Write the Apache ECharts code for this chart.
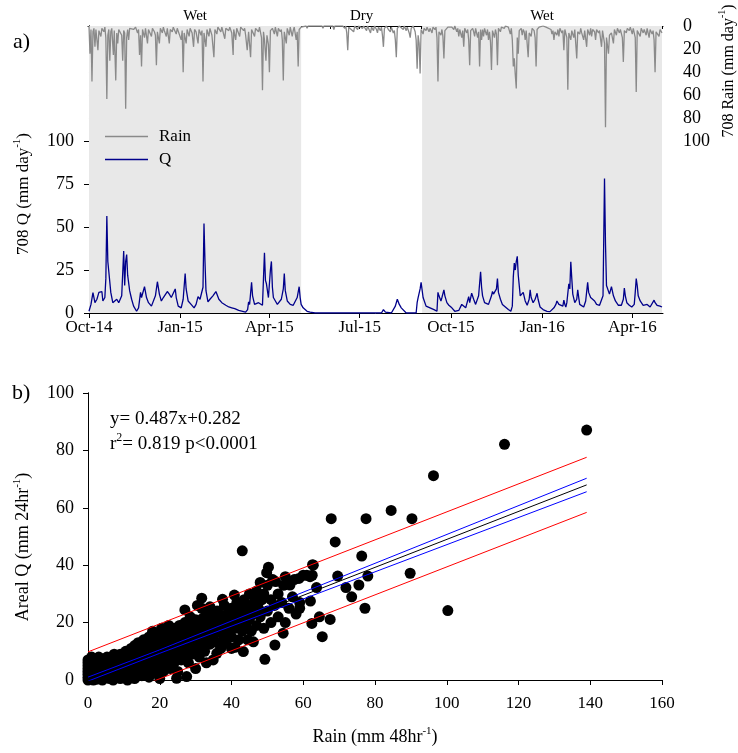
<!DOCTYPE html>
<html><head><meta charset="utf-8">
<script src="https://cdn.jsdelivr.net/npm/echarts@6/dist/echarts.min.js"></script>
<style>html,body{margin:0;padding:0;background:#fff}#c{width:738px;height:753px}</style>
</head><body><div id="c"></div>
<script>
const FONT = 'Liberation Serif, Times New Roman, serif';
// ---- Panel a data (day 0 = 1 Oct 2014) ----
const monthLabels = ['Oct-14','Jan-15','Apr-15','Jul-15','Oct-15','Jan-16','Apr-16'];
const monthLabelDays = [0,92,182,273,365,457,548];
const monthStartDays = [0,31,61,92,123,151,182,212,243,273,304,335,365,396,426,457,488,517,548,578];
const seasonNames = ['Wet','Dry','Wet'];
const seasonStart = [0,214,336];
const seasonEnd = [214,336,578];
const qTicks = [0,25,50,75,100];
const rainTicks = [0,20,40,60,80,100];
const qSeries = [[0,1],[2,5],[4,11.8],[6,6],[8,8],[10,12],[12,11],[13,12.5],[14,7],[16,9],[17,20],[18,56.4],[19,30],[20,24],[21,25],[22,12],[24,6],[26,7],[28,8],[30,6],[32,7],[33,10],[35,36],[36,16],[37,30],[38,34],[39,22],[41,13],[43,8],[45,4],[48,1],[50,3],[52,12],[53,9],[54,8],[56,15.3],[58,9],[60,6],[63,4],[65,5],[67,10],[69,18.2],[71,11],[73,7],[75,9],[77,10],[79,12.5],[81,11],[83,9],[85,10],[87,14],[88,9],[90,4],[93,3],[95,8],[97,23],[98,14],[100,7],[103,5],[106,3],[108,5],[110,9.5],[112,8],[114,7],[115,15],[116,52],[117,30],[118,13],[120,6.5],[122,8],[125,10],[127,11],[128,12.5],[129,11],[131,8],[134,6],[138,4.5],[141,3.5],[144,3],[147,2.5],[151,1.5],[155,1],[158,0.5],[160,2],[161,6.5],[162,5],[164,17.8],[165,10],[167,5],[169,5],[171,6],[173,5],[175,4.5],[176,20],[177,35],[178,19],[179,17],[181,9],[183,25],[184,30],[185,15],[186,9],[188,7],[190,5],[192,6],[194,8],[196,14],[197,23],[198,13],[200,7],[203,5],[206,4.5],[208,5],[210,9],[212,15.3],[213,9],[214,5],[216,3],[218,2],[220,1],[223,0.5],[228,0],[295,0],[296,1],[297,2],[299,0.5],[300,0],[305,0],[307,0.5],[309,4],[311,8],[313,5],[315,3],[317,2],[320,0],[330,0],[331,6],[332,9],[334,14],[335,17.8],[337,9],[340,4],[344,3],[348,2],[351,1],[352,12],[353,10],[355,7],[356,9],[358,13.5],[359,10],[361,6],[363,4.5],[366,3],[369,1],[371,0],[373,1.5],[376,5],[378,4],[380,3],[382,4],[383,9.5],[384,6],[385,7],[386,11.5],[388,8],[390,5],[391,4.5],[393,10],[395,24],[396,15],[397,10],[399,6],[401,7],[403,5],[404,4],[405,6],[406,10],[407,12.5],[408,11],[410,10],[411,14],[412,20],[413,12],[415,8],[417,5],[420,3.5],[423,2],[425.5,1],[427,4],[428,21],[429,29],[430,25],[431,30],[432,33],[433,22],[435,10],[436,11],[438,12],[440,7],[442,4.5],[444,8],[445,13.5],[446,9],[448,6],[450,8],[452,11.5],[453,8],[455,3.5],[458,2],[462,1],[465,0.8],[467,1],[469,3],[471,5],[472,7],[474,5],[476,4.5],[478,4],[479,7.5],[480,5],[481,3.5],[482,6],[484,17],[485,14],[486,29.8],[487,20],[488,11],[490,6],[492,8],[493,13.5],[494,9],[495,5],[497,4],[499,3.5],[501,7],[503,17.8],[504,12],[506,9],[507,8],[508,10],[510,7],[512,5],[515,4.5],[517,4.5],[518.5,10],[520,78.3],[521,40],[522,16],[523,15.5],[525,11],[526,12],[527,15.3],[529,10],[531,7],[534,4.5],[537,4.5],[539,8],[540,14.5],[541,10],[542.5,6],[545,4.5],[547.5,3.5],[550,5],[551,12],[552,20],[553,16],[554,10],[556,7],[559,4.5],[561,4],[563,5],[565,4],[566,3.5],[568,4],[570,7.5],[571,6],[573,4.5],[576,4],[578,3.5]];
const rainSeries = [[0,0],[1,24],[2,3],[3,48],[4,5],[5,2],[6,18],[7,3],[9,21],[10,4],[12,9],[13,2],[15,5],[16,1],[17,10],[18,63],[19,8],[20,3],[21,30],[22,5],[23,2],[24.6,25],[25.5,4],[27,47],[28,6],[29,15],[30,3],[32,2],[33,8],[34,30],[35,4],[36,6],[37,71.6],[38,10],[39,3],[40,12],[41,2],[43,1],[45,3],[47,1],[49,6],[50,3],[51,25],[52,8],[53,35],[54,3],[56,10],[57,2],[59,15],[60,3],[61,4],[63,9],[64,2],[66,5],[67,8],[68,34],[69,5],[71,15],[72,2],[74,6],[75,1],[76,4],[78,9],[79,2],[81,15],[82,3],[84,5],[85,1],[88,7],[89,2],[91,3],[93,12],[94,4],[95,40],[96,6],[98,15],[99,3],[101,9],[102,2],[104,6],[105.5,18],[106.5,3],[108,5],[110,15],[111,3],[113,8],[114,4],[115,48],[116,6],[118,18],[119,3],[121,9],[122,2],[124,8],[126,27],[127,3],[129,7],[130,1],[133,5],[134,1],[137,11],[138,2],[141,4],[142,1],[144,6],[145.4,25],[146,3],[148,12],[149,2],[151,3],[152,9],[153,1],[156,4],[157,2],[158,8],[159.6,21],[161,5],[163,27],[164,3],[166,7],[167,9],[168,2],[171,5],[172,1],[174,10],[175,55.6],[176,5],[177,12],[178.5,30],[179.5,8],[181,16],[182,40],[183,4],[185,2],[187,7],[188,1],[190,9],[191,2],[193,5],[194,3],[195,12],[196,47],[197,5],[199,15],[200,2],[202,8],[203,1],[205,9],[206,4],[207,1],[209,12],[210,5],[211,35],[212,3],[214,1],[216,0],[219,0],[220,2],[221,0],[235,0],[236,2],[237,0],[246,0],[247,3],[248,0],[250,1],[251,0],[256,0],[258,2],[259,0],[260,6],[261,21],[262,1],[264,0],[267,5],[268,0],[271,3],[272,0],[276,2],[277,0],[280,4],[281,0],[284,6],[285,1],[287,4],[288,0],[290,3],[291,6],[292,1],[294,4],[295,1],[296,8],[297,18],[298,2],[300,0],[302,3],[304,5],[305,1],[307,6],[308,4],[309,12],[310,27],[311,2],[313,0],[315,1],[317,3],[318,0],[320,4],[321,1],[323,6],[324,10],[325,2],[327,0],[329,5],[330,12],[331,37],[332,8],[333,15],[334,41],[335,3],[337,7],[338,2],[340,4],[341,1],[343,5],[344,2],[346,6],[347,1],[349,3],[350,1],[351,10],[352,48],[353,5],[355,8],[356,3],[357,9],[358,28],[359,4],[361,3],[362,1],[364,2],[366,1],[368,3],[369,0],[371,5],[372,2],[373,9],[374,3],[376,10],[377,4],[378,18],[379,2],[381,6],[382,3],[383,12],[384,34],[385,4],[387,2],[388,5],[389,9],[390,2],[392,10],[393,5],[394,35],[395,3],[396,12],[397,3],[398,9],[399,2],[401,8],[402,3],[403,12],[404,5],[405,14],[406,38],[407,4],[409,10],[410,3],[411,7],[412,34],[413,2],[415,5],[416,1],[419,2],[420,0],[423,1],[424,0],[425,7],[426,2],[427,12],[428,35],[429,28],[430,42],[431,54],[432,10],[433,24],[434,4],[436,2],[437,8],[438,3],[439,5],[440,12],[441,4],[443,27],[444,6],[446,9],[447,2],[449,4],[450,10],[451,35],[452,3],[454,1],[456,2],[458,0],[461,1],[462,2],[463,0],[466,3],[467,7],[468,4],[469,12],[470,5],[472,8],[473,3],[474,9],[475,2],[477,6],[478,4],[479,21],[480,3],[482,10],[483,55],[484,6],[486,12],[487,4],[489,10],[490,3],[492,28],[493,5],[495,7],[496,2],[497,6],[499,12],[500,4],[502,18],[503,3],[505,8],[506,2],[507,9],[508,3],[510,5],[511,12],[512,3],[514,6],[515,4],[517,18],[518,4],[520,15],[521,87.5],[522,10],[524,24],[525,8],[527,6],[529,15],[530,3],[532,8],[533,2],[535,6],[536,3],[538,10],[539,31],[540,4],[542,6],[543,2],[545,4],[546,1],[548,7],[549,2],[551,10],[552,57],[553,4],[555,3],[556,9],[557,2],[559,6],[560,3],[562,8],[563,2],[565,10],[566,3],[568,7],[569,4],[570,12],[571,40],[572,5],[574,4],[575,9],[576,3],[578,6]];
// ---- Panel b data ----
const scatterPts = [[0,0],[0,1],[0,2],[0,3],[0,4],[0,5],[0,6],[0,7],[0.3,2.5],[0.5,0.5],[0.5,4.5],[0.8,6.5],[1,1],[1,3],[1,5],[1,8],[1.2,2],[1.5,0],[1.5,4],[1.5,6],[2,1.5],[2,3],[2,7],[2.3,5],[2.5,0.3],[2.8,2.5],[3,4],[3,6],[3,8],[3.2,1],[3.5,3],[4,0],[4,2],[4,5],[4.2,7],[4.5,3.5],[5,1],[5,4.5],[5,6],[5.3,8],[5.5,2.5],[6,0.5],[6,3.5],[6,5.5],[6.2,7.5],[6.5,2],[7,0],[7,4],[7,6.5],[7.3,9],[7.5,2.5],[8,1],[8,5],[8,7.5],[8.5,3.5],[9,0.5],[9,2],[9,6],[9,9],[9.5,4],[10,1.5],[10,5.5],[10,8],[10.5,10],[11,0],[11,3],[11,6.5],[11,9],[11.5,4.5],[12,1],[12,7],[12,11],[12.5,5],[12.5,2.5],[13,8.5],[13,12],[13,0.5],[13.5,6],[14,3.5],[14,10],[14,13],[14.5,7.5],[15,1.5],[15,5],[15,9],[15,12],[15.5,14],[16,3],[16,7],[16,10.5],[16.5,13],[16.5,5.5],[17,1],[17,8.5],[17,15],[17.5,11],[17.5,4],[18,6.5],[18,12.5],[18,17],[18.5,9],[18.5,2.5],[19,14],[19,7],[19,10.5],[19.5,4.5],[19.5,16],[20,0.5],[20,6],[20,9],[20,12],[20,15.5],[20.5,18],[21,3],[21,8],[21,11],[21,13.5],[21.5,17],[21.5,5.5],[22,10],[22,14.5],[22,7],[22.5,12],[22.5,19],[23,4],[23,9],[23,16],[23.5,13],[23.5,11],[24,6],[24,15],[24,18],[24.5,8.5],[24.7,0.6],[25,12],[25,16.5],[25,3],[25.5,10],[25.5,19],[26,7],[26,14],[26,17.5],[26.5,12],[27,24.4],[27,9],[27,15.5],[27,20],[27.5,1.2],[27.5,11],[28,6],[28,13],[28,18],[28.5,16],[28.5,22],[29,9],[29,12],[29,19.5],[29.5,14.5],[30,4],[30,17],[30,21],[30,11],[30.5,26],[31,8],[31,14],[31,18.5],[31.7,28.5],[31.7,25],[32,12],[32,16],[32,21.5],[32.5,10],[32.5,19],[33,14],[33,23],[33,6],[33.5,17],[34,12.5],[34,20],[34,25.5],[34.5,15],[34.9,7],[35,18],[35,22],[35.9,9.3],[36,13],[36,16.5],[36,24],[36.5,20],[37,11],[37,18],[37.5,28.1],[37.5,22.5],[38,15],[38,20],[38,26],[38.5,13],[39,17],[39,23],[39.5,19],[40,11],[40,15],[40,21],[40,25],[40.8,29.6],[41,11.4],[41,18],[41,23],[41.5,27],[42,14],[42,20],[42.5,25],[43,45],[43,17],[43,22],[43.3,9.9],[43.5,28],[44,19],[44,24],[44.5,14],[45,21],[45,26],[45,30],[45.5,17],[46,23],[46.1,13.3],[46.5,28],[47,19],[47,31],[47.5,25],[48,22],[48,34],[48.5,28],[49,18],[49,30],[49.3,7.2],[49.8,37.4],[50,24],[50,33],[50.3,39.3],[51,20],[51,28],[51.5,35],[52,26],[52.1,12.2],[52.3,34.3],[53,22],[53,30],[54,27],[54.4,16.3],[54.5,33],[55,20],[55,36],[56,25],[56.3,33.1],[57,29],[57.5,35],[58,23],[58.8,35.4],[59,25],[59,27],[60,36.5],[61,36.5],[61.9,36],[62.4,19.7],[62,27.5],[62.5,36.5],[62.6,40.2],[62.8,40],[63.7,32.2],[64.5,22],[65.3,15.1],[67.5,21.1],[67.8,56.2],[68.9,48.1],[69.6,36.2],[71.9,32.2],[73.5,29],[75.5,33.1],[76.3,43.2],[77.2,25],[77.5,56.2],[78,36.2],[84.5,59.1],[89.8,37.2],[90.3,56.2],[96.3,71.2],[100.3,24.2],[116.1,82.1],[139,87.1]];
const fitLine = [[0,0.282],[139,67.98]];
const confUpper = [[0,1.0],[20,10.5],[139,70.3]];
const confLower = [[0,-0.4],[20,9.3],[139,65.6]];
const predUpper = [[0,9.8],[139,77.6]];
const predLower = [[0,-9.3],[139,58.4]];
const eqText = 'y= 0.487x+0.282';
const r2Text = ['r','2','= 0.819 p<0.0001'];

const chart = echarts.init(document.getElementById('c'));
const lab = {fontFamily: FONT, fontSize: 17, color: '#000'};
const axLine = {show: true, lineStyle: {color: '#000', width: 1}};
function mkRich(fs) {
  return {
    a: {fontFamily: FONT, fontSize: fs, color: '#000', verticalAlign: 'bottom', lineHeight: fs + 3},
    s: {fontFamily: FONT, fontSize: Math.round(fs * 0.62), color: '#000', verticalAlign: 'top', lineHeight: fs + 3}
  };
}
function supText(x, y, a, s, b, fs, rot, align) {
  const o = {type: 'text', x: x, y: y,
    style: {text: '{a|' + a + '}{s|' + s + '}{a|' + b + '}', rich: mkRich(fs), align: align || 'center', verticalAlign: 'middle'}};
  if (rot) o.rotation = Math.PI / 2;
  return o;
}
const option = {
  animation: false,
  backgroundColor: '#fff',
  grid: [
    {left: 88, top: 26, width: 575, height: 287},
    {left: 88, top: 393, width: 574, height: 287}
  ],
  legend: {
    data: ['Rain', 'Q'], orient: 'vertical', left: 100, top: 123, itemWidth: 43, itemHeight: 1.5,
    icon: 'rect', itemGap: 6, textStyle: {fontFamily: FONT, fontSize: 17, color: '#000', padding: [0, 0, 0, 6]}
  },
  xAxis: [
    {gridIndex: 0, type: 'value', min: -1, max: 579, position: 'bottom', axisLine: axLine, splitLine: {show: false},
      axisTick: {show: true, length: 5, customValues: monthLabelDays, lineStyle: {color: '#000'}},
      axisLabel: Object.assign({customValues: monthLabelDays, margin: 6,
        formatter: v => monthLabels[monthLabelDays.indexOf(v)] || ''}, lab)},
    {gridIndex: 0, type: 'value', min: -1, max: 579, position: 'bottom', axisLine: {show: false}, splitLine: {show: false},
      axisTick: {show: true, length: 3, customValues: monthStartDays, lineStyle: {color: '#000'}},
      axisLabel: {show: false}},
    {gridIndex: 0, type: 'value', min: -1, max: 579, position: 'top', axisLine: axLine, splitLine: {show: false},
      axisTick: {show: false}, axisLabel: {show: false}},
    {gridIndex: 1, type: 'value', min: 0, max: 160, interval: 20, position: 'bottom', axisLine: axLine, splitLine: {show: false},
      axisTick: {show: true, length: 5, lineStyle: {color: '#000'}},
      axisLabel: Object.assign({margin: 15}, lab)},
    {gridIndex: 1, type: 'value', min: 0, max: 160, position: 'top', axisLine: axLine, splitLine: {show: false},
      axisTick: {show: false}, axisLabel: {show: false}}
  ],
  yAxis: [
    {gridIndex: 0, type: 'value', min: 0, max: 167, position: 'left', axisLine: axLine, splitLine: {show: false},
      axisTick: {show: true, length: 5, customValues: qTicks, lineStyle: {color: '#000'}},
      axisLabel: Object.assign({customValues: qTicks, margin: 14}, lab, {fontSize: 18})},
    {gridIndex: 0, type: 'value', min: 0, max: 248, inverse: true, position: 'right', axisLine: axLine, splitLine: {show: false},
      axisTick: {show: true, length: 5, customValues: rainTicks, lineStyle: {color: '#000'}},
      axisLabel: Object.assign({customValues: rainTicks, margin: 20}, lab, {fontSize: 18})},
    {gridIndex: 1, type: 'value', min: 0, max: 100, interval: 20, position: 'left', axisLine: axLine, splitLine: {show: false},
      axisTick: {show: true, length: 5, lineStyle: {color: '#000'}},
      axisLabel: Object.assign({margin: 14}, lab, {fontSize: 18})},
    {gridIndex: 1, type: 'value', min: 0, max: 100, position: 'right', axisLine: axLine, splitLine: {show: false},
      axisTick: {show: false}, axisLabel: {show: false}}
  ],
  series: [
    {type: 'line', name: 'seasons', xAxisIndex: 0, yAxisIndex: 0, data: [[0, 0]], showSymbol: false, symbol: 'none',
      lineStyle: {opacity: 0}, z: 1, silent: true,
      markArea: {silent: true, label: {position: 'top', distance: 2, fontFamily: FONT, fontSize: 15, color: '#000'},
        data: seasonNames.map((n, i) => [
          {name: n, xAxis: seasonStart[i], itemStyle: {color: n === 'Wet' ? '#e8e8e8' : 'rgba(255,255,255,0)'}},
          {xAxis: seasonEnd[i]}])}},
    {type: 'line', name: 'Rain', xAxisIndex: 0, yAxisIndex: 1, data: rainSeries, symbol: 'none', showSymbol: false,
      lineStyle: {color: '#8a8a8a', width: 1.3}, itemStyle: {color: '#8a8a8a'}, z: 3},
    {type: 'line', name: 'Q', xAxisIndex: 0, yAxisIndex: 0, data: qSeries, symbol: 'none', showSymbol: false,
      lineStyle: {color: '#00008b', width: 1.3}, itemStyle: {color: '#00008b'}, z: 4},
    {type: 'scatter', name: 'pts', xAxisIndex: 3, yAxisIndex: 2, data: scatterPts, symbolSize: 11,
      itemStyle: {color: '#000', opacity: 1}, z: 3},
    {type: 'line', name: 'predU', xAxisIndex: 3, yAxisIndex: 2, data: predUpper, symbol: 'none', lineStyle: {color: '#ff0000', width: 1}, z: 5},
    {type: 'line', name: 'predL', xAxisIndex: 3, yAxisIndex: 2, data: predLower, symbol: 'none', lineStyle: {color: '#ff0000', width: 1}, z: 5},
    {type: 'line', name: 'confU', xAxisIndex: 3, yAxisIndex: 2, data: confUpper, symbol: 'none', lineStyle: {color: '#0000ff', width: 1}, z: 5},
    {type: 'line', name: 'confL', xAxisIndex: 3, yAxisIndex: 2, data: confLower, symbol: 'none', lineStyle: {color: '#0000ff', width: 1}, z: 5},
    {type: 'line', name: 'fit', xAxisIndex: 3, yAxisIndex: 2, data: fitLine, symbol: 'none', lineStyle: {color: '#000', width: 1}, z: 6}
  ],
  graphic: [
    {type: 'text', x: 13, y: 31, style: {text: 'a)', fontFamily: FONT, fontSize: 22, fill: '#000'}},
    {type: 'text', x: 12, y: 382, style: {text: 'b)', fontFamily: FONT, fontSize: 22, fill: '#000'}},
    supText(22, 194, '708 Q (mm day', '-1', ')', 17, true),
    supText(727, 71, '708 Rain (mm day', '-1', ')', 16, true),
    supText(22, 547, 'Areal Q (mm 24hr', '-1', ')', 18, true),
    supText(375, 736, 'Rain (mm 48hr', '-1', ')', 18, false),
    {type: 'text', x: 110, y: 410, style: {text: eqText, fontFamily: FONT, fontSize: 19, fill: '#000'}},
    supText(110, 443, r2Text[0], r2Text[1], r2Text[2], 19, false, 'left')
  ]
};
chart.setOption(option);
</script></body></html>
